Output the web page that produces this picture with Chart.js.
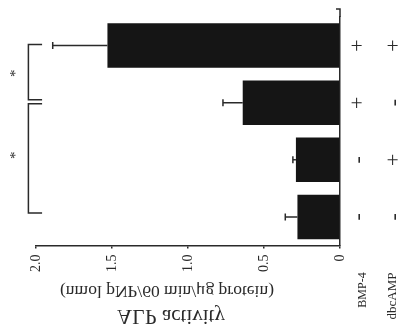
<!DOCTYPE html>
<html>
<head>
<meta charset="utf-8">
<script src="https://cdn.jsdelivr.net/npm/chart.js@4.4.1/dist/chart.umd.min.js"></script>
<style>
  html, body { margin: 0; padding: 0; background: #ffffff; }
  #wrap { width: 398px; height: 328px; }
</style>
</head>
<body>
<div id="wrap"><canvas id="c" width="398" height="328"></canvas></div>
<script>
// ---- data ----
const categories = ['BMP-4 + / dbcAMP +', 'BMP-4 + / dbcAMP -', 'BMP-4 - / dbcAMP +', 'BMP-4 - / dbcAMP -'];
const bmp4Signs = ['+', '+', '-', '-'];
const dbcampSigns = ['+', '-', '+', '-'];
const alpActivity = [1.53, 0.64, 0.29, 0.28];
const alpError = [0.36, 0.13, 0.02, 0.08];
const xTickValues = [0, 0.5, 1.0, 1.5, 2.0];
const rowLabels = ['BMP-4', 'dbcAMP'];
const titleLines = ['ALP activity', '(nmol pNP/60 min/\u03bcg protein)'];
const significance = [[0, 1], [1, 3]];

const SERIF = '"Liberation Serif", "DejaVu Serif", serif';
const INK = '#2a2a2a';

function rotText(ctx, txt, x, y, font) {
  ctx.save();
  ctx.translate(x, y);
  ctx.rotate(-Math.PI / 2);
  ctx.font = font;
  ctx.textAlign = 'center';
  ctx.textBaseline = 'middle';
  ctx.fillText(txt, 0, 0);
  ctx.restore();
}

const decor = {
  id: 'decor',
  afterDatasetsDraw(chart) {
    const ctx = chart.ctx;
    const xs = chart.scales.x, ys = chart.scales.y;
    const area = chart.chartArea;
    ctx.save();
    ctx.strokeStyle = INK;
    ctx.fillStyle = INK;
    ctx.lineWidth = 1.5;

    // top extension of the category axis
    ctx.beginPath();
    ctx.moveTo(area.right, area.top);
    ctx.lineTo(area.right, area.top - 8);
    ctx.lineTo(area.right - 4, area.top - 8);
    ctx.stroke();

    // error bars (extend from bar end, away from zero)
    alpActivity.forEach((v, i) => {
      const y = ys.getPixelForValue(i);
      const x0 = xs.getPixelForValue(v);
      const x1 = xs.getPixelForValue(v + alpError[i]);
      ctx.beginPath();
      ctx.moveTo(x0, y);
      ctx.lineTo(x1, y);
      ctx.moveTo(x1, y - 3.5);
      ctx.lineTo(x1, y + 3.5);
      ctx.stroke();
    });

    // significance brackets
    const bx = xs.getPixelForValue(2.05);
    const bstub = xs.getPixelForValue(1.96);
    const sx = xs.getPixelForValue(2.13);
    significance.forEach(([a, b], k) => {
      const ya = ys.getPixelForValue(a) + (k === 0 ? -1 : 1);
      const yb = ys.getPixelForValue(b) - (k === 0 ? 3 : 4);
      ctx.beginPath();
      ctx.moveTo(bstub, ya);
      ctx.lineTo(bx, ya);
      ctx.lineTo(bx, yb);
      ctx.lineTo(bstub, yb);
      ctx.stroke();
      rotText(ctx, '*', sx, (ya + yb) / 2 + (k === 0 ? 1 : -3), '15px ' + SERIF);
    });

    // +/- signs
    const col1 = area.right + 18, col2 = area.right + 54;
    categories.forEach((c, i) => {
      const y = ys.getPixelForValue(i);
      rotText(ctx, bmp4Signs[i], col1, y, '22px ' + SERIF);
      rotText(ctx, dbcampSigns[i], col2, y, '22px ' + SERIF);
    });

    // row labels
    rotText(ctx, rowLabels[0], col1 + 5, 290, '12px ' + SERIF);
    rotText(ctx, rowLabels[1], col2 - 1, 296, '13px ' + SERIF);

    // axis title (appears mirrored in the reference)
    const cx = (area.left + area.right) / 2;
    ctx.font = '17.5px ' + SERIF;
    ctx.textAlign = 'center';
    ctx.textBaseline = 'middle';
    ctx.save();
    ctx.translate(cx - 21, 291);
    ctx.scale(1, -1);
    ctx.fillText(titleLines[1], 0, 0);
    ctx.restore();
    ctx.font = '21px ' + SERIF;
    ctx.save();
    ctx.translate(cx - 17, 316);
    ctx.scale(1, -1);
    ctx.fillText(titleLines[0], 0, 0);
    ctx.restore();

    ctx.restore();
  }
};

new Chart(document.getElementById('c'), {
  type: 'bar',
  data: {
    labels: categories,
    datasets: [{
      data: alpActivity,
      backgroundColor: '#151515',
      borderWidth: 0,
      categoryPercentage: 1,
      barPercentage: 0.78
    }]
  },
  options: {
    indexAxis: 'y',
    responsive: false,
    animation: false,
    events: [],
    layout: { padding: { left: 36, right: 50, top: 17, bottom: 50 } },
    plugins: { legend: { display: false }, tooltip: { enabled: false } },
    scales: {
      x: {
        type: 'linear',
        position: 'bottom',
        reverse: true,
        min: 0,
        max: 2,
        afterBuildTicks(axis) { axis.ticks = xTickValues.map(v => ({ value: v })); },
        ticks: {
          minRotation: 90,
          maxRotation: 90,
          padding: 6,
          color: INK,
          font: { family: SERIF, size: 14 },
          callback: v => (v === 0 ? '0' : Number(v).toFixed(1))
        },
        grid: { display: true, drawOnChartArea: false, tickLength: 3, color: INK, lineWidth: 1.5 },
        border: { display: true, color: INK, width: 1.5 }
      },
      y: {
        position: 'right',
        ticks: { display: false },
        grid: { display: false },
        border: { display: true, color: INK, width: 1.5 }
      }
    }
  },
  plugins: [decor]
});
</script>
</body>
</html>
